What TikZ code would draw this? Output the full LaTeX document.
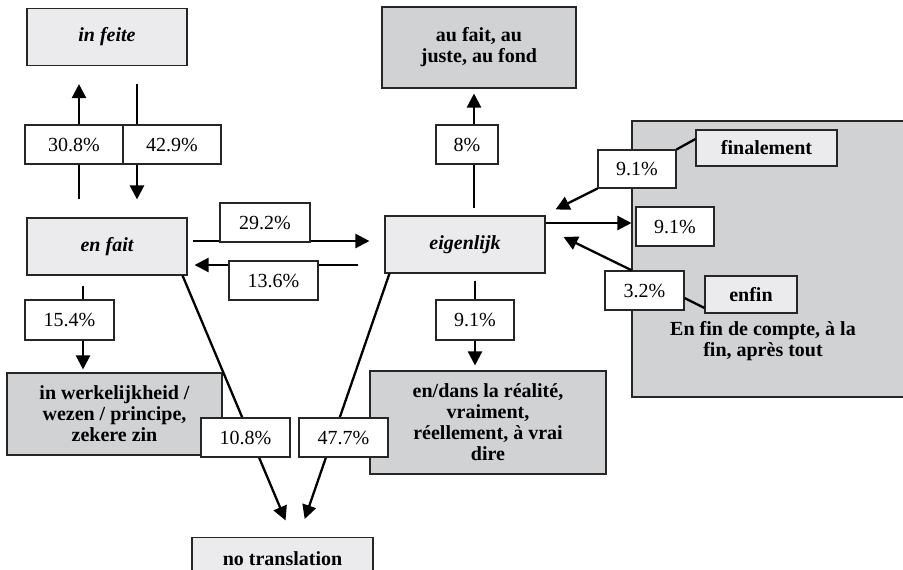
\documentclass[tikz,border=0pt]{standalone}
\usepackage{fontspec}
\setmainfont{Liberation Serif}
\usepackage{tikz}
\usetikzlibrary{arrows.meta}
\definecolor{palegrey}{RGB}{235,235,237}
\definecolor{midgrey}{RGB}{209,210,212}
\tikzset{
  term/.style={draw=black!85,line width=1.1pt,fill=palegrey,font=\bfseries\itshape,minimum width=160pt,minimum height=57pt},
  trans/.style={draw=black!85,line width=1.1pt,fill=midgrey,font=\bfseries,align=center,inner sep=0pt},
  lightbox/.style={draw=black!85,line width=1.1pt,fill=palegrey,font=\bfseries},
  pct/.style={draw=black!85,line width=1.1pt,fill=white,minimum height=39pt,inner sep=0pt},
  arr/.style={line width=2.3pt,-{Triangle[length=14pt,width=14pt]}},
  tie/.style={line width=2.3pt}
}
\begin{document}
\fontsize{20}{21}\selectfont
\begin{tikzpicture}[x=1pt,y=-1pt]
                      \clip(0,0)rectangle(903,570);
                      \node[trans,minimum width=272pt,minimum height=276pt](later)at(768,259){};
                      \node[term](infeite)at(107,37){in feite};
                      \node[trans,minimum width=194pt,minimum height=81pt](aufait)at(479,47.5){au fait, au\\juste, au fond};
                      \node[term](enfait)at(107,246.5){en fait};
                      \node[term](eigenlijk)at(465,244.5){eigenlijk};
                      \node[lightbox,minimum width=141pt,minimum height=36pt](finalement)at(766.5,148){finalement};
                      \node[lightbox,minimum width=92pt,minimum height=37pt](enfin)at(751,294.5){enfin};
                      \node[font=\bfseries,align=center](achteraf)at(763,341){En fin de compte, à la\\fin, après tout};
                      \node[trans,minimum width=215pt,minimum height=82pt](werkelijk)at(114.5,414){in werkelijkheid /\\wezen / principe,\\zekere zin};
                      \node[trans,minimum width=236pt,minimum height=103pt](realite)at(488,422.5){en/dans la réalité,\\vraiment,\\réellement, à vrai\\dire};
                      \node[lightbox,anchor=north,minimum width=181pt,minimum height=42pt](none)at(282.5,537){no translation};
                      % connectors under the percentages
                      \draw[arr,shorten <=18pt,shorten >=18pt]([xshift=-28pt]enfait.north)--([xshift=-28pt]infeite.south);
                      \draw[arr,shorten <=18pt,shorten >=18pt]([xshift=30pt]infeite.south)--([xshift=30pt]enfait.north);
                      \draw[arr,shorten <=5pt,shorten >=15pt]([yshift=5.5pt]enfait.east)--([yshift=3.5pt]eigenlijk.west);
                      \draw[arr,shorten <=26pt,shorten >=7pt]([yshift=-20.5pt]eigenlijk.west)--([yshift=-18.5pt]enfait.east);
                      \draw[arr,shorten <=7pt,shorten >=5pt]([xshift=9pt]eigenlijk.north)--([xshift=-5pt]aufait.south);
                      \draw[arr,shorten <=10pt,shorten >=3pt]([xshift=-24pt]enfait.south)--([xshift=-31.5pt]werkelijk.north);
                      \draw[arr,shorten <=7pt,shorten >=5pt]([xshift=10pt]eigenlijk.south)--([xshift=-13pt]realite.north);
                      \draw[arr,shorten >=18pt]([xshift=-5pt]enfait.south east)--([xshift=10pt]none.north);
                      \draw[arr,shorten >=19pt]([xshift=5pt]eigenlijk.south west)--([xshift=16pt]none.north);
                      \draw[arr]([yshift=21.5pt]eigenlijk.east)--([yshift=36pt]later.west);
                      % percentages
                      \node[pct,minimum width=98pt](p308)at(74,144.5){30.8\%};
                      \node[pct,minimum width=98pt](p429)at(172,144.5){42.9\%};
                      \node[pct,minimum width=90pt](p292)at(265,222.5){29.2\%};
                      \node[pct,minimum width=89pt](p136)at(273.5,280.5){13.6\%};
                      \node[pct,minimum width=62pt](p8)at(467,144.5){8\%};
                      \node[pct,minimum width=78pt,minimum height=38pt](p91a)at(637,169){9.1\%};
                      \node[pct,minimum width=78pt](p91b)at(675,226.5){9.1\%};
                      \node[pct,minimum width=79pt](p32)at(644.5,290.5){3.2\%};
                      \node[pct,minimum width=89pt,minimum height=40pt](p154)at(69.5,320){15.4\%};
                      \node[pct,minimum width=78pt,minimum height=40pt](p91c)at(475,320){9.1\%};
                      \node[pct,minimum width=89pt](p108)at(245.5,437.5){10.8\%};
                      \node[pct,minimum width=89pt](p477)at(343.5,437.5){47.7\%};
                      \draw[arr](p91a.south west)--([shift={(10pt,6pt)}]eigenlijk.north east);
                      \draw[tie](p91a.north east)--([yshift=9pt]finalement.west);
                      \draw[arr]([xshift=-12.5pt]p32.north)--([shift={(18pt,7.5pt)}]eigenlijk.east);
                      \draw[tie]([yshift=-7.5pt]p32.east)--([yshift=-13.5pt]enfin.west);
                  \end{tikzpicture}
\end{document}
